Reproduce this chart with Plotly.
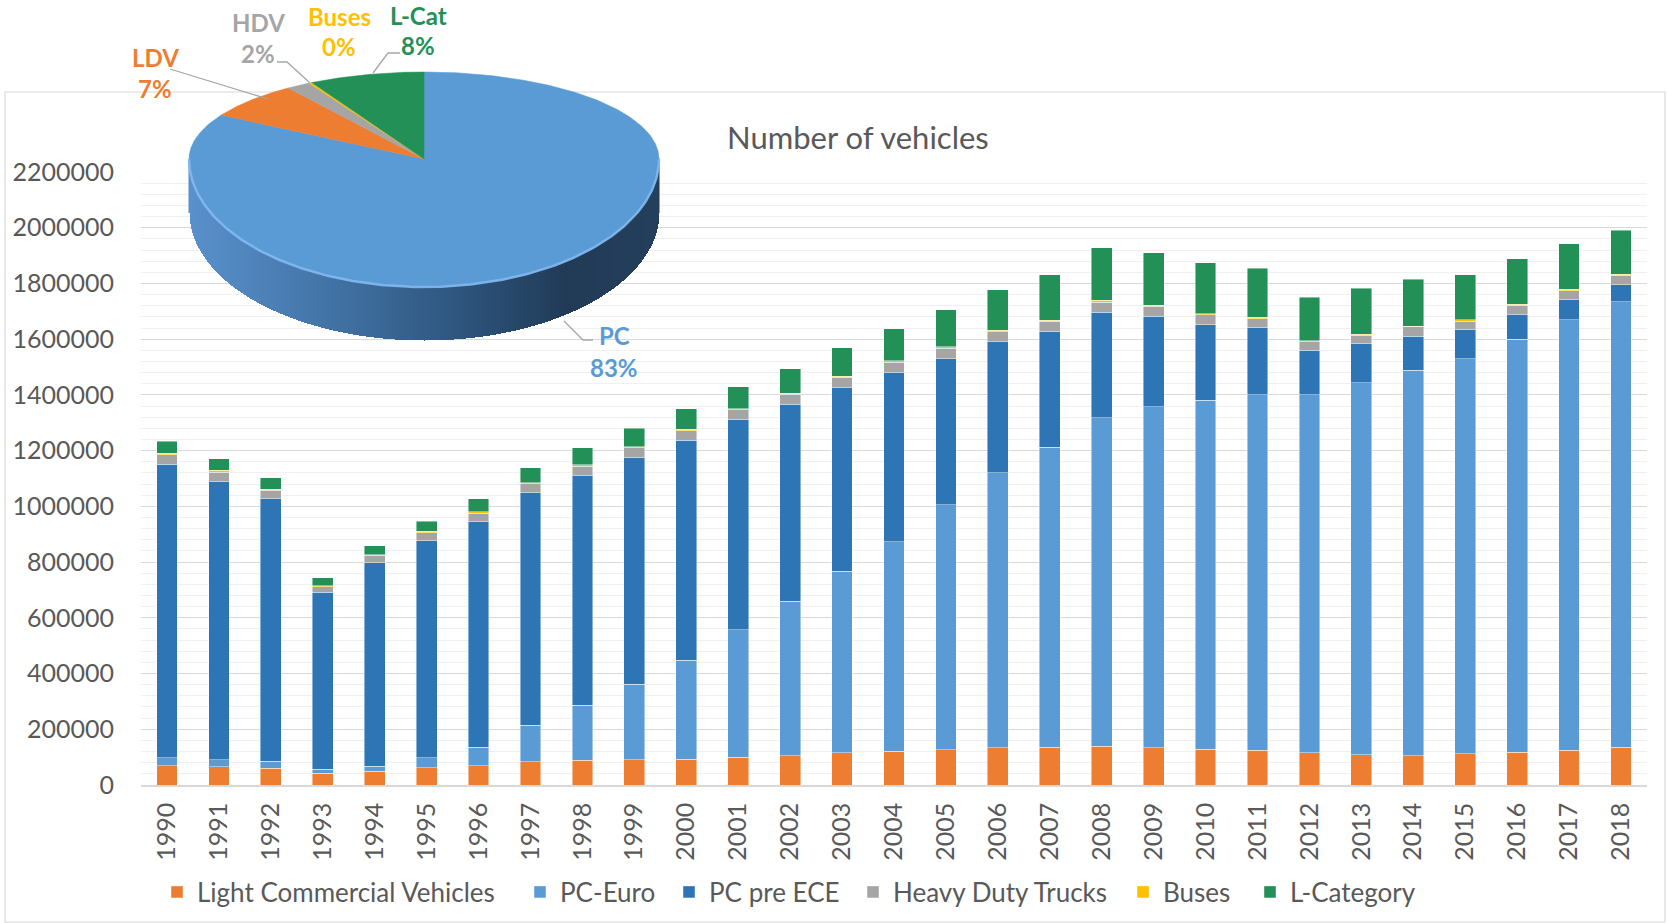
import numpy as np
import plotly.graph_objects as go

W, H = 1667, 923

# ---------------- data ----------------
years = ["1990", "1991", "1992", "1993", "1994", "1995", "1996", "1997", "1998", "1999",
         "2000", "2001", "2002", "2003", "2004", "2005", "2006", "2007", "2008", "2009",
         "2010", "2011", "2012", "2013", "2014", "2015", "2016", "2017", "2018"]

lcv = [69000, 66000, 61000, 42000, 49000, 62000, 69000, 83000, 89000, 91000,
       93000, 99000, 105000, 115000, 122000, 126000, 134000, 136000, 139000, 134000,
       129000, 124000, 115000, 109000, 105000, 112000, 117000, 125000, 135000]
pc_euro = [28000, 25000, 25000, 15000, 18000, 35000, 67000, 132000, 198000, 271000,
           354000, 458000, 554000, 653000, 751000, 880000, 986000, 1077000, 1179000, 1223000,
           1251000, 1276000, 1286000, 1334000, 1384000, 1418000, 1483000, 1544000, 1600000]
pc_pre_ece = [1055000, 998000, 941000, 634000, 731000, 779000, 809000, 833000, 823000, 815000,
              791000, 756000, 707000, 658000, 607000, 524000, 470000, 415000, 378000, 325000,
              271000, 243000, 160000, 141000, 121000, 104000, 88000, 72000, 61000]
hdt = [33000, 34000, 31000, 21000, 27000, 29000, 30000, 33000, 34000, 33000,
       34000, 34000, 36000, 37000, 37000, 37000, 36000, 37000, 37000, 37000,
       36000, 31000, 30000, 31000, 34000, 31000, 33000, 33000, 33000]
buses = [5000, 6000, 3000, 3000, 2000, 5000, 6000, 4000, 5000, 4000,
         4000, 4000, 4000, 4000, 6000, 6000, 6000, 3000, 6000, 3000,
         4000, 4000, 4000, 3000, 3000, 4000, 4000, 6000, 4000]
l_category = [44000, 42000, 42000, 29000, 32000, 36000, 46000, 53000, 61000, 67000,
              74000, 78000, 88000, 102000, 115000, 132000, 145000, 163000, 190000, 189000,
              183000, 176000, 155000, 165000, 169000, 162000, 163000, 162000, 158000]

series_names = ["Light Commercial Vehicles", "PC-Euro", "PC pre ECE",
                "Heavy Duty Trucks", "Buses", "L-Category"]

# pie (share of vehicle groups, last year)
pie_labels = ["PC", "LDV", "HDV", "Buses", "L-Cat"]
pie_values = [pc_euro[-1] + pc_pre_ece[-1], lcv[-1], hdt[-1], buses[-1], l_category[-1]]

y_ticks = list(range(0, 2200001, 200000))

# ---------------- style ----------------
C_ORANGE = "#ED7D31"
C_LBLUE = "#5B9BD5"
C_DBLUE = "#2E75B6"
C_GRAY = "#A5A5A5"
C_YELLOW = "#FFC000"
C_GREEN = "#239157"
series_colors = [C_ORANGE, C_LBLUE, C_DBLUE, C_GRAY, C_YELLOW, C_GREEN]
pie_colors = [C_LBLUE, C_ORANGE, C_GRAY, C_YELLOW, C_GREEN]
TXT = "#595959"
FONT = "Lato"

# plot area (pixels)
PX0, PX1 = 141, 1647
PY0, PY1 = 172, 785

fig = go.Figure()

series_vals = [lcv, pc_euro, pc_pre_ece, hdt, buses, l_category]
legend_marker_x = [179, 542, 691, 875, 1145, 1272]
for i, (nm, vals, col) in enumerate(zip(series_names, series_vals, series_colors)):
    lg = "legend" if i == 0 else f"legend{i+1}"
    fig.add_trace(go.Bar(
        x=years, y=vals, name=nm, legend=lg,
        marker=dict(color=col, line=dict(color="rgba(255,255,255,0.55)", width=0.8)),
        xaxis="x", yaxis="y",
    ))

# ---------------- 3D-like pie in pixel space (x2/y2) ----------------
cx, cy = 424, 159
rx, ry_far, ry_near, depth = 235, 87, 128, 53


def rim_point(theta):
    s = np.sin(theta)
    ry = np.where(s > 0, ry_far, ry_near)
    return cx + rx * np.cos(theta), cy - ry * s


# side of the cylinder as gradient heatmap
xs = np.arange(cx - rx, cx + rx + 1, 1.0)
ys = np.arange(cy, cy + ry_near + depth + 2, 1.0)
XX, YY = np.meshgrid(xs, ys)
dxn = (XX - cx) / rx
rim_y = cy + ry_near * np.sqrt(np.clip(1 - dxn ** 2, 0, None))
mask = (np.abs(dxn) <= 1) & (YY <= rim_y + depth)
Z = np.where(mask, dxn, np.nan)
fig.add_trace(go.Heatmap(
    x=xs, y=ys, z=Z, zmin=-1, zmax=1, showscale=False, hoverinfo="skip",
    colorscale=[[0, "#5991CC"], [0.3, "#4273A6"], [0.6, "#2C5279"], [0.8, "#213B57"], [1, "#243F5C"]],
    xaxis="x2", yaxis="y2",
))

total = float(sum(pie_values))
cum = 0.0
for lab, v, col in zip(pie_labels, pie_values, pie_colors):
    f0, f1 = cum / total, (cum + v) / total
    cum += v
    n = max(4, int((f1 - f0) * 720))
    fr = np.linspace(f0, f1, n)
    th = np.pi / 2 - 2 * np.pi * fr
    px, py = rim_point(th)
    xs_p = np.concatenate([[cx], px, [cx]])
    ys_p = np.concatenate([[cy], py, [cy]])
    fig.add_trace(go.Scatter(
        x=xs_p, y=ys_p, mode="lines", fill="toself", fillcolor=col,
        line=dict(color=col, width=0.5), hoverinfo="skip", showlegend=False,
        xaxis="x2", yaxis="y2",
    ))

# rim highlight on near edge
th = np.linspace(np.pi, 2 * np.pi, 200)
hx, hy = rim_point(th)
fig.add_trace(go.Scatter(x=hx, y=hy, mode="lines", line=dict(color="rgba(130,185,240,0.9)", width=2.5),
                         hoverinfo="skip", showlegend=False, xaxis="x2", yaxis="y2"))

# pie labels
pcts = [f"{round(100 * v / total)}%" for v in pie_values]
label_colors = [C_LBLUE, C_ORANGE, C_GRAY, C_YELLOW, C_GREEN]
label_pos = {"PC": (614, 335, 367), "LDV": (155, 57, 88), "HDV": (258, 22, 53),
             "Buses": (339, 16, 46), "L-Cat": (418, 15, 45)}
annotations = []
for lab, pc, col in zip(pie_labels, pcts, label_colors):
    x, y1, y2 = label_pos[lab]
    annotations.append(dict(x=x, y=y1, xref="x2", yref="y2", text=f"<b>{lab}</b>", showarrow=False,
                            font=dict(family=FONT, size=24, color=col)))
    annotations.append(dict(x=x, y=y2, xref="x2", yref="y2", text=f"<b>{pc}</b>", showarrow=False,
                            font=dict(family=FONT, size=24, color=col)))

annotations.append(dict(x=858, y=137, xref="x2", yref="y2", text="Number of vehicles", showarrow=False,
                        font=dict(family=FONT, size=31, color=TXT)))

leader = "#A6A6A6"
shapes = [
    dict(type="rect", xref="x2", yref="y2", x0=5, y0=92, x1=1665, y1=922,
         line=dict(color="#D9D9D9", width=1.2), layer="below"),
    dict(type="path", xref="x2", yref="y2", path="M 170 69 L 268 99", line=dict(color=leader, width=1.3)),
    dict(type="path", xref="x2", yref="y2", path="M 277 62 L 287 62 L 310 83", line=dict(color=leader, width=1.3)),
    dict(type="path", xref="x2", yref="y2", path="M 400 53 L 388 53 L 373 73", line=dict(color=leader, width=1.3)),
    dict(type="path", xref="x2", yref="y2", path="M 564 321 L 583 340 L 593 340", line=dict(color=leader, width=1.3)),
]

layout = dict(
    width=W, height=H,
    margin=dict(l=0, r=0, t=0, b=0, autoexpand=False),
    paper_bgcolor="white", plot_bgcolor="rgba(0,0,0,0)",
    barmode="stack", bargap=0.6,
    font=dict(family=FONT, color=TXT),
    xaxis=dict(domain=[PX0 / W, PX1 / W], type="category", tickangle=-90,
               tickfont=dict(family=FONT, size=25, color=TXT), showline=True,
               linecolor="#D9D9D9", linewidth=1.5, showgrid=False, ticks="",
               ticklabelstandoff=6, anchor="y", fixedrange=True, automargin=False),
    yaxis=dict(domain=[1 - PY1 / H, 1 - PY0 / H], range=[0, 2200000], tickvals=y_ticks,
               tickformat="d", tickfont=dict(family=FONT, size=25, color=TXT),
               gridcolor="#D9D9D9", gridwidth=1.2, zeroline=False, showline=False,
               minor=dict(dtick=40000, showgrid=True, gridcolor="#F0F0F0", gridwidth=1),
               ticklabelstandoff=26, anchor="x", fixedrange=True, automargin=False),
    xaxis2=dict(domain=[0, 1], range=[0, W], visible=False, anchor="y2", fixedrange=True, automargin=False),
    yaxis2=dict(domain=[0, 1], range=[H, 0], visible=False, anchor="x2", fixedrange=True, automargin=False),
    annotations=annotations, shapes=shapes,
    showlegend=True,
)
for i, mx in enumerate(legend_marker_x):
    key = "legend" if i == 0 else f"legend{i+1}"
    layout[key] = dict(x=(mx - 22) / W, y=1 - 892 / H, xanchor="left", yanchor="middle",
                       orientation="h", bgcolor="rgba(0,0,0,0)",
                       font=dict(family=FONT, size=26, color=TXT))

fig.update_layout(**layout)
fig.write_html("out.html", config={"displayModeBar": False},
               post_script="document.body.style.margin='0px';")
